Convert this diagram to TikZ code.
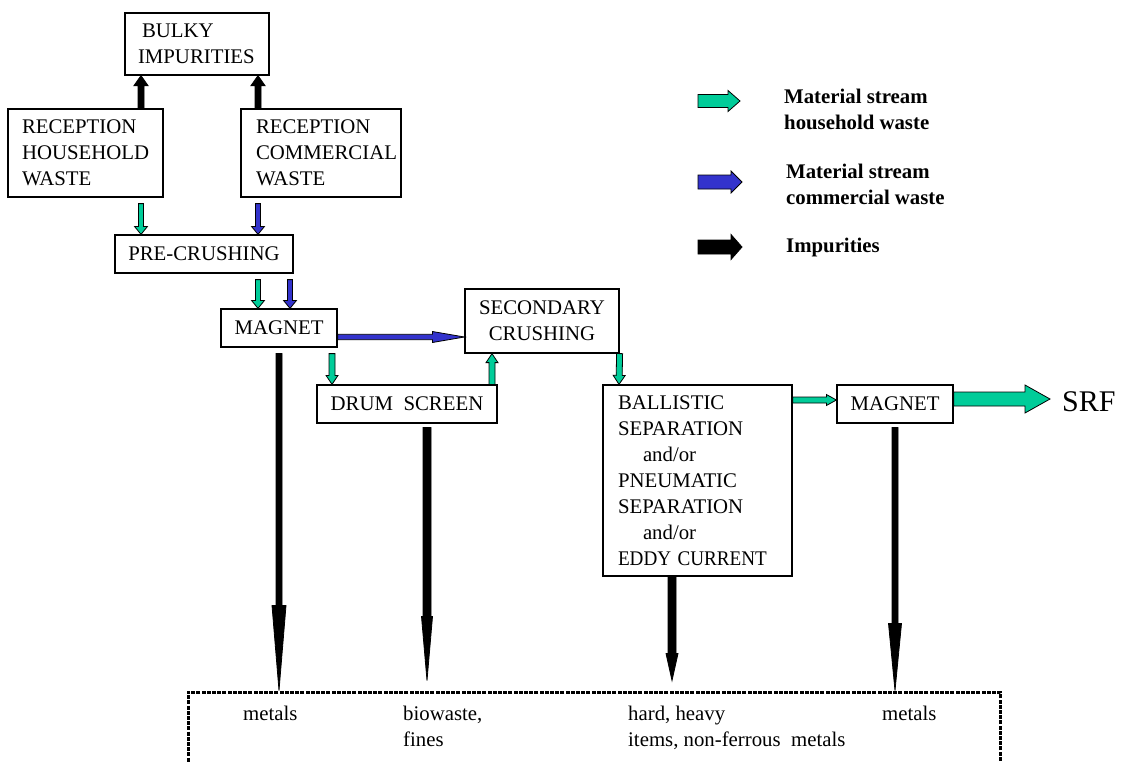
\documentclass[tikz,border=0pt]{standalone}
\usepackage{fontspec}
\usepackage{graphicx}
\setmainfont{Liberation Serif}
\usetikzlibrary{calc}
\definecolor{hgreen}{RGB}{0,204,153}
\definecolor{cblue}{RGB}{51,51,204}
% #1 fill, #2 start, #3 end, #4 shaft half width, #5 head half width, #6 head length
\newcommand\blockarrow[6]{%
  \coordinate (bA) at (#2);
  \coordinate (bB) at (#3);
  \coordinate (bH) at ($(bB)!#6pt!(bA)$);
  \filldraw[fill=#1, draw=black, line width=0.8pt, line join=miter]
    ($(bA)!#4pt!90:(bB)$) -- ($(bH)!#4pt!90:(bB)$) -- ($(bH)!#5pt!90:(bB)$) -- (bB)
    -- ($(bH)!#5pt!-90:(bB)$) -- ($(bH)!#4pt!-90:(bB)$) -- ($(bA)!#4pt!-90:(bB)$) -- cycle;
}
\tikzset{
  box/.style={draw, line width=1.2pt, rectangle, inner ysep=0pt},
  lbox/.style={box, align=left},
  lbl/.style={anchor=north west, inner sep=0pt, align=left},
  legtext/.style={lbl, font=\fontsize{20.8}{26}\selectfont\bfseries},
  outframe/.style={draw, line width=3pt, dash pattern=on 4pt off 1.2pt, rectangle},
}
\begin{document}
\begin{tikzpicture}[x=1pt, y=-1pt, font=\fontsize{20.8}{26}\selectfont]
\useasboundingbox (0,0) rectangle (1121,761);
\begin{scope}
\clip (0,0) rectangle (1121,761);
% boxes
\node[lbox, minimum width=144pt, minimum height=62pt, inner xsep=13pt, text width=118pt] (bulky) at (197,44) {\hspace*{4pt}BULKY\\IMPURITIES};
\node[lbox, minimum height=88pt, inner xsep=14pt, text width=127pt] (hh) at (85.5,153) {RECEPTION\\HOUSEHOLD\\WASTE};
\node[lbox, minimum height=88pt, inner xsep=15pt, text width=130pt] (cw) at (321,153) {RECEPTION\\COMMERCIAL\\WASTE};
\node[box, minimum width=178pt, minimum height=38pt] (pc) at (204,254) {PRE-CRUSHING};
\node[box, minimum width=116pt, minimum height=38pt] (mag1) at (279,328) {MAGNET};
\node[box, align=center, minimum width=154pt, minimum height=64pt] (sec) at (542,321) {SECONDARY\\CRUSHING};
\node[box, minimum width=180pt, minimum height=38pt] (drum) at (407,404) {DRUM\ \ SCREEN};
\node[lbox, minimum height=191pt, inner xsep=15pt, text width=159pt] (ball) at (697.5,480.5)
  {BALLISTIC\\SEPARATION\\\hspace*{25pt}and/or\\PNEUMATIC\\SEPARATION\\\hspace*{25pt}and/or\\\scalebox{0.92}[1]{EDDY CURRENT}};
\node[box, minimum width=116pt, minimum height=38pt] (mag2) at (895,404) {MAGNET};
\node[anchor=west, inner sep=0pt, font=\fontsize{30}{36}\selectfont] (srf) at (1062,402) {SRF};
\node[outframe, minimum width=812pt, minimum height=120pt] (out) at (594,752) {};
% output labels
\node[lbl] (o1) at (243,706) {metals};
\node[lbl] (o2) at (403,706) {biowaste,\\fines};
\node[lbl] (o3) at (628,706) {hard, heavy\\items, non-ferrous\ \ metals};
\node[lbl] (o4) at (882,706) {metals};
% legend
\coordinate (lg1a) at (698,101); \coordinate (lg1b) at (740,101);
\coordinate (lg2a) at (698,182); \coordinate (lg2b) at (742,182);
\coordinate (lg3a) at (698,247); \coordinate (lg3b) at (742,247);
\blockarrow{hgreen}{lg1a}{lg1b}{6.5}{10.5}{12}
\blockarrow{cblue}{lg2a}{lg2b}{7}{11}{11}
\blockarrow{black}{lg3a}{lg3b}{7}{12.5}{11}
\node[legtext] (lt1) at (784,89) {Material stream\\household waste};
\node[legtext] (lt2) at (786,164) {Material stream\\commercial waste};
\node[legtext] (lt3) at (786,238) {Impurities};
% impurities to bulky
\blockarrow{black}{[xshift=55.5pt]hh.north}{[xshift=-56pt]bulky.south}{3}{7}{10}
\blockarrow{black}{[xshift=-63pt]cw.north}{[xshift=61pt]bulky.south}{3}{7}{10}
% reception to pre-crushing
\blockarrow{hgreen}{[xshift=55.5pt,yshift=-6pt]hh.south}{[xshift=-63pt]pc.north}{2.5}{6.5}{8}
\blockarrow{cblue}{[xshift=-63pt,yshift=-6pt]cw.south}{[xshift=54pt]pc.north}{2.5}{6.5}{8}
% pre-crushing to magnet
\blockarrow{hgreen}{[xshift=54pt,yshift=-6pt]pc.south}{[xshift=-21pt]mag1.north}{2.5}{6.5}{8}
\blockarrow{cblue}{[xshift=86pt,yshift=-6pt]pc.south}{[xshift=11pt]mag1.north}{2.5}{6.5}{8}
% magnet to secondary crushing
\blockarrow{cblue}{[yshift=-9pt]mag1.east}{[yshift=-16pt]sec.west}{2.7}{5.5}{32}
% magnet to drum screen, drum screen to secondary crushing
\blockarrow{hgreen}{[xshift=53pt,yshift=-6pt]mag1.south}{[xshift=-75pt]drum.north}{3}{6}{9}
\blockarrow{hgreen}{[xshift=85pt]drum.north}{[xshift=-50pt]sec.south}{3}{6}{9}
% secondary crushing to ballistic
\blockarrow{hgreen}{sec.south east}{[xshift=-78.5pt]ball.north}{3}{6}{9}
% ballistic to magnet 2
\blockarrow{hgreen}{$(mag2.west -| ball.east)+(0,-4)$}{[yshift=4pt]mag2.west}{3}{5.5}{10}
% magnet 2 to SRF
\blockarrow{hgreen}{[yshift=5pt]mag2.east}{[xshift=-12pt,yshift=3pt]srf.west}{7}{14}{25}
% impurity outputs
\blockarrow{black}{[yshift=-6pt]mag1.south}{[xshift=-315pt]out.north}{3}{7}{85}
\blockarrow{black}{[xshift=20pt,yshift=-4pt]drum.south}{[xshift=-167pt,yshift=10pt]out.north}{4}{5.5}{64}
\blockarrow{black}{[xshift=-25.5pt]ball.south}{[xshift=78pt,yshift=10pt]out.north}{4}{6}{27}
\blockarrow{black}{[yshift=-4pt]mag2.south}{[xshift=301pt]out.north}{3}{6.5}{67}
\end{scope}
\end{tikzpicture}
\end{document}
